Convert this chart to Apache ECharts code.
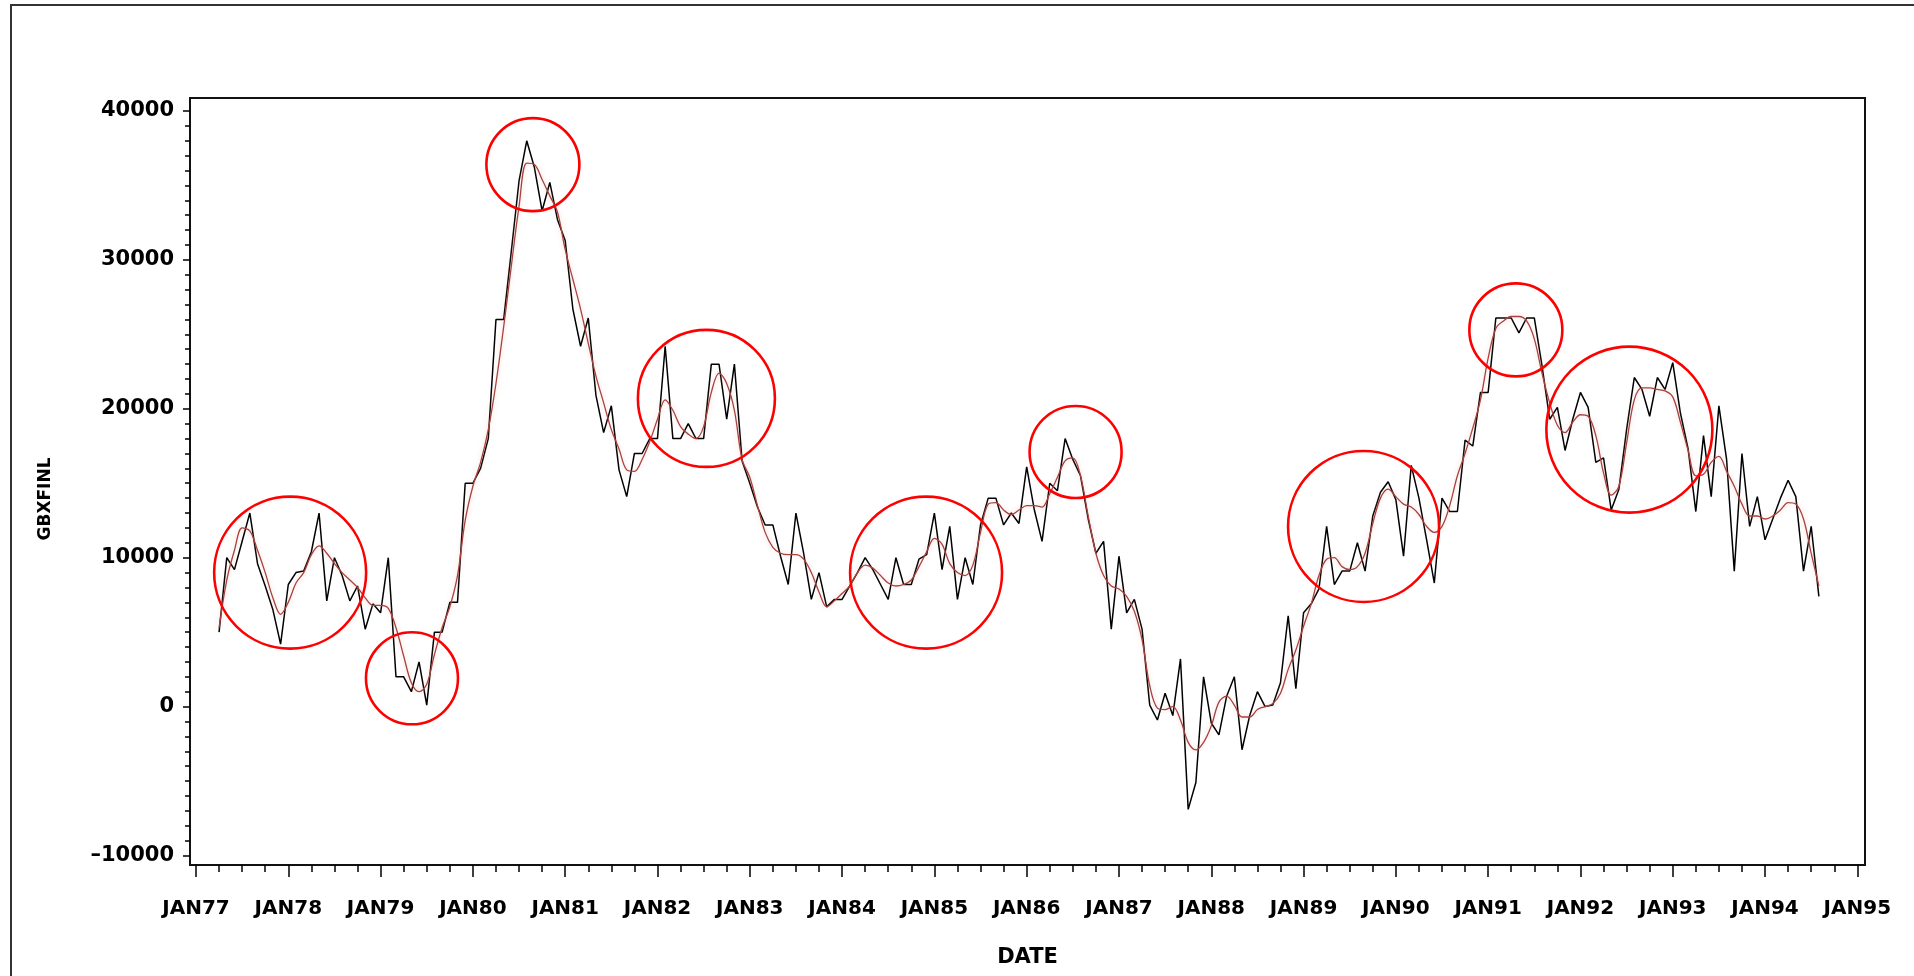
<!DOCTYPE html>
<html>
<head>
<meta charset="utf-8">
<title>GBXFINL</title>
<script src="https://cdn.jsdelivr.net/npm/echarts@6/dist/echarts.min.js"></script>
<style>
html, body {
  margin: 0;
  padding: 0;
  background: #fff;
}
#main {
  width: 1914px;
  height: 976px;
}
</style>
</head>
<body>
<div id="main"></div>
<script>
// monthly series, first value is APR77
const startYear = 1977
const startMonth = 4

// GBXFINL (black, raw)
const gbxfinl = [
  5000, 10000, 9200, 11100, 13000, 9600, 8100, 6500, 4200, // 1977
  8200, 9000, 9100, 10400, 13000, 7100, 10000, 8800, 7100, 8100, 5200, 6900, // 1978
  6300, 10000, 2000, 2000, 1000, 3000, 100, 5000, 5000, 7000, 7000, 15000, // 1979
  15000, 16000, 18000, 26000, 26000, 30600, 35300, 38000, 36200, 33300, 35200, 32700, // 1980
  31300, 26700, 24200, 26100, 20900, 18400, 20200, 15900, 14100, 17000, 17000, 18000, // 1981
  18000, 24200, 18000, 18000, 19000, 18000, 18000, 23000, 23000, 19300, 23000, 16500, // 1982
  15000, 13400, 12200, 12200, 10100, 8200, 13000, 10300, 7200, 9000, 6700, 7200, // 1983
  7200, 8100, 9000, 10000, 9200, 8200, 7200, 10000, 8200, 8200, 9900, 10200, // 1984
  13000, 9200, 12100, 7200, 10000, 8200, 12200, 14000, 14000, 12200, 13000, 12300, // 1985
  16100, 13200, 11100, 15000, 14500, 18000, 16600, 15500, 12600, 10300, 11100, 5200, // 1986
  10100, 6300, 7200, 5200, 100, -900, 900, -600, 3200, -6900, -5100, 2000, // 1987
  -1100, -1900, 700, 2000, -2900, -600, 1000, 0, 100, 1600, 6100, 1200, // 1988
  6300, 6900, 7900, 12100, 8200, 9100, 9100, 11000, 9100, 12800, 14400, 15100, // 1989
  13900, 10100, 16200, 14000, 11200, 8300, 14000, 13100, 13100, 17900, 17500, 21100, // 1990
  21100, 26100, 26100, 26100, 25100, 26100, 26100, 22900, 19300, 20100, 17200, 19300, // 1991
  21100, 20100, 16400, 16700, 13200, 14600, 18600, 22100, 21300, 19500, 22100, 21300, // 1992
  23100, 19700, 17300, 13100, 18200, 14100, 20200, 16600, 9100, 17000, 12100, 14100, // 1993
  11200, 12600, 14000, 15200, 14100, 9100, 12100, 7400 // 1994
]

// smoothed curve (red)
const smoothed = [
  5300, 8500, 10500, 12000, 11800, 10500, 9000, 7300, 6200, // 1977
  7000, 8300, 9000, 10200, 10800, 10300, 9600, 9000, 8500, 8000, 7300, 6800, // 1978
  6800, 6600, 5300, 3400, 1600, 1000, 1500, 3500, 5300, 6700, 8800, 12500, // 1979
  14800, 16400, 18600, 21700, 25500, 29600, 33600, 36500, 36400, 35400, 34300, 33200, // 1980
  30700, 28700, 26700, 24400, 22200, 20400, 18600, 17300, 15900, 15800, 16600, 17800, // 1981
  19300, 20600, 19900, 18800, 18300, 18000, 18800, 21100, 22400, 21700, 19900, 16600, // 1982
  15400, 13500, 11700, 10700, 10300, 10200, 10200, 9900, 9000, 7700, 6700, 7100, // 1983
  7600, 8100, 9000, 9500, 9300, 8800, 8300, 8100, 8200, 8500, 9400, 10400, // 1984
  11300, 10900, 9600, 9000, 8800, 9500, 11700, 13600, 13700, 13200, 12900, 13200, // 1985
  13500, 13500, 13400, 14300, 15400, 16500, 16700, 15500, 12800, 10300, 8800, 8100, // 1986
  7900, 7400, 6400, 4500, 1400, -100, -200, 0, -900, -2400, -2900, -2400, // 1987
  -1300, 300, 700, 100, -700, -700, -200, 0, 200, 900, 2500, 3800, // 1988
  5400, 6900, 8800, 9900, 10000, 9400, 9200, 9400, 10300, 12300, 14000, 14600, // 1989
  14100, 13600, 13400, 12900, 12100, 11700, 12100, 13500, 15500, 17000, 18700, 20600, // 1990
  23400, 25400, 25900, 26200, 26200, 25900, 24700, 22400, 20400, 18900, 18400, 19100, // 1991
  19600, 19500, 18200, 15700, 14200, 14800, 17700, 20600, 21400, 21400, 21300, 21200, // 1992
  20800, 19100, 17200, 15500, 15600, 16400, 16800, 15800, 14800, 13600, 12800, 12800, // 1993
  12600, 12800, 13200, 13700, 13600, 12600, 10300, 8100 // 1994
]

// axis labels
const yearTicks = [1977, 1978, 1979, 1980, 1981, 1982, 1983, 1984, 1985, 1986,
  1987, 1988, 1989, 1990, 1991, 1992, 1993, 1994, 1995]
const valueTicks = [-10000, 0, 10000, 20000, 30000, 40000]

// hand drawn red circles: centre in (year, value)
const circleCenters = [
  [1978.02, 9000], [1979.34, 1900], [1980.65, 36400], [1982.53, 20700], [1984.91, 9000],
  [1986.53, 17100], [1989.65, 12100], [1991.30, 25300], [1992.53, 18600]
]
const circleRadii = [76, 46, 46.5, 68.5, 76, 46, 75.5, 46.5, 83]

function monthPos (i) {
  return startYear + (startMonth - 1 + i) / 12
}

// minor ticks: quarters on x, every 1000 on y
const quarterTicks = []
for (let y = yearTicks[0]; y < yearTicks[yearTicks.length - 1]; y++) {
  quarterTicks.push(y + 0.25, y + 0.5, y + 0.75)
}
const minorValueTicks = []
for (let v = valueTicks[0]; v < valueTicks[valueTicks.length - 1]; v += 1000) {
  if (v % 10000 !== 0) minorValueTicks.push(v)
}

const rawPoints = gbxfinl.map((v, i) => [monthPos(i), v])
const smoothPoints = smoothed.map((v, i) => [monthPos(i), v])

const font = 'DejaVu Sans'
const xMin = 1976.935
const xMax = 1995.083
const yMin = -10638
const yMax = 40873

let myChart = echarts.init(document.getElementById('main'), null, { renderer: 'canvas' })

myChart.setOption({
  animation: false,
  backgroundColor: '#fff',
  grid: {
    left: 190,
    right: 49,
    top: 98,
    bottom: 111,
    show: true,
    borderColor: '#111',
    borderWidth: 2,
    backgroundColor: 'transparent'
  },
  xAxis: [
    {
      type: 'value',
      min: xMin,
      max: xMax,
      name: 'DATE',
      nameLocation: 'middle',
      nameGap: 82,
      nameTextStyle: { fontFamily: font, fontWeight: 'bold', fontSize: 21, color: '#000' },
      axisLine: { show: false, onZero: false },
      splitLine: { show: false },
      axisTick: {
        customValues: yearTicks,
        length: 12,
        lineStyle: { color: '#000', width: 1.5 }
      },
      axisLabel: {
        customValues: yearTicks,
        margin: 34,
        fontFamily: font,
        fontWeight: 'bold',
        fontSize: 20,
        color: '#000',
        formatter: function (v) {
          return 'JAN' + String(Math.round(v)).slice(2)
        }
      }
    },
    {
      type: 'value',
      position: 'bottom',
      min: xMin,
      max: xMax,
      axisLine: { show: false, onZero: false },
      splitLine: { show: false },
      axisLabel: { show: false },
      axisTick: {
        customValues: quarterTicks,
        length: 7,
        lineStyle: { color: '#000', width: 1.5 }
      }
    }
  ],
  yAxis: [
    {
      type: 'value',
      min: yMin,
      max: yMax,
      axisLine: { show: false, onZero: false },
      splitLine: { show: false },
      axisTick: {
        customValues: valueTicks,
        length: 7,
        lineStyle: { color: '#000', width: 1.5 }
      },
      axisLabel: {
        customValues: valueTicks,
        margin: 16,
        fontFamily: font,
        fontWeight: 'bold',
        fontSize: 21,
        color: '#000',
        formatter: function (v) {
          return v < 0 ? '\u2013' + Math.abs(v) : String(v)
        }
      }
    },
    {
      type: 'value',
      position: 'left',
      min: yMin,
      max: yMax,
      axisLine: { show: false, onZero: false },
      splitLine: { show: false },
      axisLabel: { show: false },
      axisTick: {
        customValues: minorValueTicks,
        length: 5,
        lineStyle: { color: '#000', width: 1.5 }
      }
    }
  ],
  series: [
    {
      name: 'GBXFINL',
      type: 'line',
      data: rawPoints,
      showSymbol: false,
      symbol: 'none',
      lineStyle: { color: '#000', width: 1.5 },
      z: 3
    },
    {
      name: 'smooth',
      type: 'line',
      data: smoothPoints,
      showSymbol: false,
      symbol: 'none',
      smooth: 0.35,
      lineStyle: {
        color: '#a8423c',
        width: 1.3,
        shadowColor: 'rgba(235, 140, 140, 0.45)',
        shadowBlur: 5
      },
      z: 4
    },
    {
      name: 'circles',
      type: 'custom',
      data: circleCenters.map((c, k) => [c[0], c[1], k]),
      clip: false,
      silent: true,
      z: 5,
      renderItem: function (params, api) {
        const p = api.coord([api.value(0), api.value(1)])
        return {
          type: 'circle',
          shape: { cx: p[0], cy: p[1], r: circleRadii[api.value(2)] },
          style: { fill: 'none', stroke: '#ff0000', lineWidth: 2.6 }
        }
      }
    }
  ],
  graphic: [
    {
      // outer page frame
      type: 'rect',
      silent: true,
      shape: { x: 11, y: 5, width: 1910, height: 990 },
      style: { fill: 'none', stroke: '#333', lineWidth: 2 }
    },
    {
      // y axis title, SAS puts it a bit below the middle
      type: 'text',
      silent: true,
      x: 46,
      y: 499,
      rotation: Math.PI / 2,
      style: {
        text: 'GBXFINL',
        fontFamily: font,
        fontWeight: 'bold',
        fontSize: 17,
        fill: '#000',
        align: 'center',
        verticalAlign: 'middle'
      }
    }
  ]
})

window.addEventListener('resize', function () {
  myChart.resize()
})
</script>
</body>
</html>
